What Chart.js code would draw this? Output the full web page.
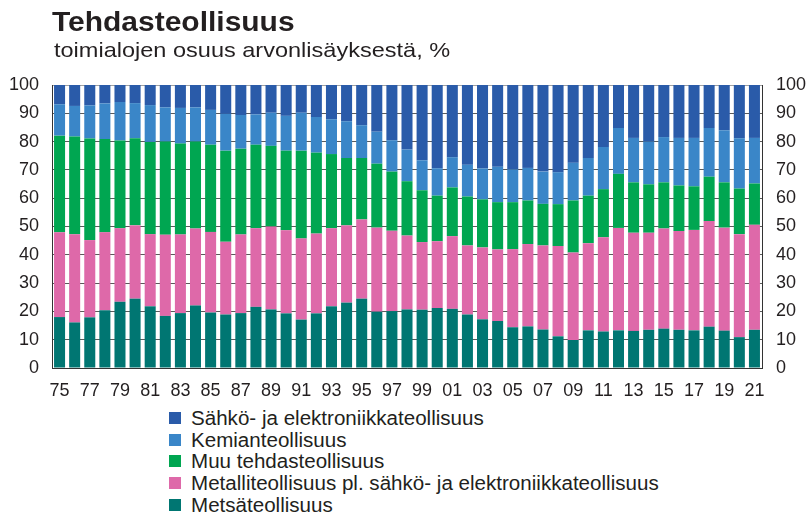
<!DOCTYPE html>
<html>
<head>
<meta charset="utf-8">
<script src="https://cdn.jsdelivr.net/npm/chart.js@4"></script>
<style>
  body { margin: 0; background: #fff; font-family: "Liberation Sans", Arial, sans-serif; color: #231f20; }
  #page { position: relative; width: 808px; height: 514px; overflow: hidden; }
  #title { position: absolute; left: 52px; top: 9px; font-size: 27px; font-weight: bold; line-height: 1;
    transform: scaleX(1.11); transform-origin: left top; white-space: nowrap; }
  #subtitle { position: absolute; left: 54px; top: 39px; font-size: 21px; line-height: 1;
    transform: scaleX(1.12); transform-origin: left top; white-space: nowrap; }
  #chartBox { position: absolute; left: 0; top: 0; width: 808px; height: 400px; }
  #legend { position: absolute; left: 169px; top: 408px; font-size: 19.5px; line-height: 21.7px; }
  .item { display: flex; align-items: center; white-space: nowrap; }
  .box { width: 12px; height: 12px; margin-right: 10px; margin-top: -2px; flex: none; }
  .txt { display: inline-block; transform: scaleX(1.055); transform-origin: left center; }
</style>
</head>
<body>
<div id="page">
  <div id="chartBox"><canvas id="industryChart" width="808" height="400"></canvas></div>
  <div id="title">Tehdasteollisuus</div>
  <div id="subtitle">toimialojen osuus arvonlisäyksestä, %</div>
  <div id="legend"></div>
</div>
<script>
// vuodet 1975-2021
const years = ['75','76','77','78','79','80','81','82','83','84','85','86','87','88','89','90',
  '91','92','93','94','95','96','97','98','99','00','01','02','03','04','05','06','07','08',
  '09','10','11','12','13','14','15','16','17','18','19','20','21'];

// osuudet, % (alhaalta ylös)
const metsa = [18.0,16.1,17.9,20.4,23.4,24.5,21.8,18.4,19.4,22.1,19.6,18.9,19.4,21.6,20.7,19.3,
  17.1,19.3,21.8,23.1,24.5,19.9,20.1,20.7,20.6,21.2,20.9,18.9,17.2,16.6,14.4,14.7,13.6,11.2,
  9.9,13.3,12.9,13.3,13.1,13.5,13.9,13.5,13.3,14.6,13.2,10.9,13.5];
const metalli = [30.0,31.2,27.3,27.6,26.0,25.9,25.5,28.7,27.8,27.2,28.5,25.7,27.8,27.8,29.3,29.4,
  28.7,28.2,27.6,27.3,28.0,29.7,28.4,26.1,23.9,23.6,25.7,24.4,25.4,25.3,27.6,29.1,29.7,31.9,
  30.9,30.8,33.3,36.2,34.7,34.3,35.4,34.9,35.5,37.3,36.4,36.4,37.1];
const muu = [34.1,34.5,35.9,32.9,31.0,30.8,32.6,32.9,32.1,30.7,30.8,32.2,30.3,29.5,28.5,28.1,
  31.0,28.6,26.2,23.8,21.7,22.6,20.9,19.2,18.3,16.1,17.2,17.3,17.0,16.7,16.6,15.4,14.7,14.8,
  18.4,16.8,17.0,19.1,17.8,17.1,16.3,16.1,15.4,15.7,16.0,16.1,14.6];
const kemia = [11.1,10.8,11.7,12.6,13.6,12.4,13.0,12.1,12.6,12.1,12.3,13.0,11.9,10.7,11.7,12.3,
  13.4,12.6,12.3,13.0,11.6,11.3,11.1,11.2,10.6,9.7,10.7,11.2,10.9,12.5,11.6,11.5,11.4,11.3,
  13.3,13.3,14.9,16.2,15.7,15.1,16.0,16.8,17.1,17.2,18.4,17.8,16.1];
const sahko = [6.8,7.4,7.2,6.5,6.0,6.4,7.1,7.9,8.1,7.9,8.8,10.2,10.6,10.4,9.8,10.9,
  9.8,11.3,12.1,12.8,14.2,16.5,19.5,22.8,26.6,29.4,25.5,28.2,29.5,28.9,29.8,29.3,30.6,30.8,
  27.5,25.8,21.9,15.2,18.7,20.0,18.4,18.7,18.7,15.2,16.0,18.8,18.7];

const seriesNames = ['Metsäteollisuus', 'Metalliteollisuus pl. sähkö- ja elektroniikkateollisuus',
  'Muu tehdasteollisuus', 'Kemianteollisuus', 'Sähkö- ja elektroniikkateollisuus'];
const seriesColors = ['#007672', '#de69a9', '#00a651', '#3a86c8', '#2a5ba9'];
const yTicks = [0,10,20,30,40,50,60,70,80,90,100];

const font = { family: '"Liberation Sans", Arial, sans-serif', size: 18 };
const seriesData = [metsa, metalli, muu, kemia, sahko];

const datasets = seriesData.map((d, i) => ({
  label: seriesNames[i],
  data: d,
  backgroundColor: seriesColors[i],
  borderWidth: 0,
  barPercentage: 0.73,
  categoryPercentage: 1.0
}));

const yAxis = (pos, width, pad) => ({
  type: 'linear',
  position: pos,
  stacked: pos === 'left',
  min: 0,
  max: 100,
  afterFit: s => { s.width = width; },
  afterBuildTicks: s => { s.ticks = yTicks.map(v => ({ value: v })); },
  border: { display: true, color: '#333', width: 1 },
  grid: {
    display: pos === 'left',
    drawTicks: false,
    color: c => (c.tick && c.tick.value === 100) ? '#a0a0a0' : '#5a5a5a',
    lineWidth: 1
  },
  ticks: { padding: pad, color: '#231f20', font: font }
});

new Chart(document.getElementById('industryChart'), {
  type: 'bar',
  data: { labels: years, datasets: datasets },
  options: {
    responsive: false,
    devicePixelRatio: 1,
    animation: false,
    layout: { padding: { top: 85, left: 0, right: 0, bottom: 0 } },
    plugins: { legend: { display: false }, tooltip: { enabled: false } },
    scales: {
      x: {
        stacked: true,
        afterFit: s => { s.height = 32; },
        grid: { display: false, drawTicks: false },
        border: { display: true, color: '#333', width: 1 },
        ticks: {
          autoSkip: false,
          maxRotation: 0,
          padding: 12,
          color: '#231f20',
          font: font,
          callback: function(v, i) { return i % 2 === 0 ? years[i] : ''; }
        }
      },
      y: yAxis('left', 52, 13),
      y2: yAxis('right', 46, 14)
    }
  }
});

// selite: ylin sarja ensin
const legend = document.getElementById('legend');
for (let i = seriesNames.length - 1; i >= 0; i--) {
  const row = document.createElement('div');
  row.className = 'item';
  row.innerHTML = '<span class="box" style="background:' + seriesColors[i] + '"></span>' +
    '<span class="txt">' + seriesNames[i] + '</span>';
  legend.appendChild(row);
}
</script>
</body>
</html>
